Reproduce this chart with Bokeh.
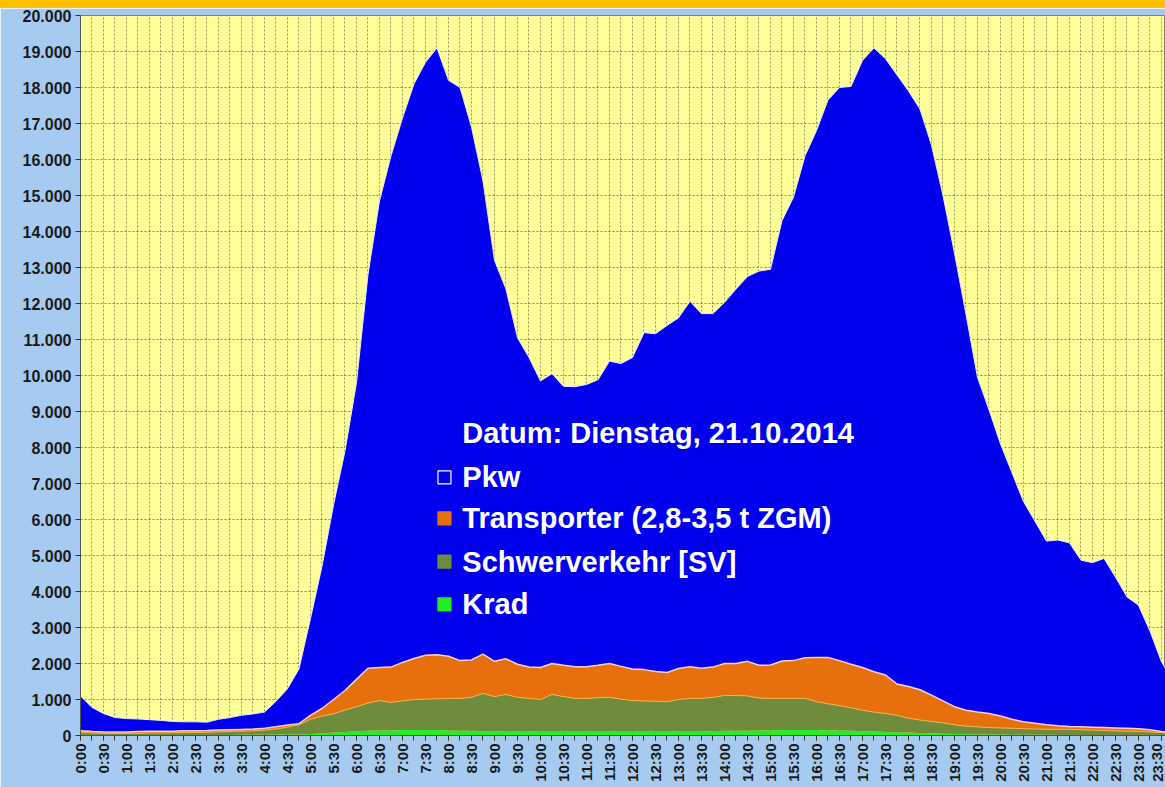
from bokeh.plotting import figure
from bokeh.models import Range1d, FixedTicker, Label, ColumnDataSource, Div
from bokeh.layouts import column
from bokeh.transform import stack
from bokeh.embed import file_html
from bokeh.resources import INLINE

# 15-minute slots 0:00 .. 23:45 (index 0..95)
slot = list(range(96))

tick_labels = ["0:00", "0:30", "1:00", "1:30", "2:00", "2:30", "3:00", "3:30",
               "4:00", "4:30", "5:00", "5:30", "6:00", "6:30", "7:00", "7:30",
               "8:00", "8:30", "9:00", "9:30", "10:00", "10:30", "11:00", "11:30",
               "12:00", "12:30", "13:00", "13:30", "14:00", "14:30", "15:00", "15:30",
               "16:00", "16:30", "17:00", "17:30", "18:00", "18:30", "19:00", "19:30",
               "20:00", "20:30", "21:00", "21:30", "22:00", "22:30", "23:00", "23:30"]

y_ticks = [0, 1000, 2000, 3000, 4000, 5000, 6000, 7000, 8000, 9000, 10000,
           11000, 12000, 13000, 14000, 15000, 16000, 17000, 18000, 19000, 20000]
y_labels = ["0", "1.000", "2.000", "3.000", "4.000", "5.000", "6.000", "7.000",
            "8.000", "9.000", "10.000", "11.000", "12.000", "13.000", "14.000",
            "15.000", "16.000", "17.000", "18.000", "19.000", "20.000"]

krad = [15, 15, 15, 15, 15, 15, 15, 15, 15, 15,
        15, 15, 15, 15, 20, 20, 20, 25, 25, 30,
        40, 55, 80, 100, 120, 130, 140, 140, 150, 150,
        150, 150, 140, 130, 130, 120, 120, 120, 110, 110,
        110, 110, 110, 110, 110, 110, 110, 110, 110, 110,
        110, 110, 110, 120, 120, 120, 130, 130, 130, 140,
        140, 150, 150, 150, 150, 140, 140, 130, 120, 110,
        100, 90, 80, 70, 60, 50, 40, 35, 30, 25,
        25, 20, 20, 20, 20, 15, 15, 15, 15, 15,
        15, 15, 10, 10, 10, 10]

schwerverkehr = [65, 55, 45, 45, 45, 50, 55, 55, 60, 65,
                 70, 75, 85, 95, 100, 110, 130, 155, 205, 270,
                 410, 485, 520, 610, 680, 770, 830, 780, 810, 850,
                 860, 870, 890, 900, 930, 1050, 960, 1020, 950, 920,
                 890, 1030, 970, 920, 920, 940, 950, 900, 860, 850,
                 840, 830, 890, 910, 910, 940, 980, 980, 970, 900,
                 890, 880, 880, 880, 790, 740, 690, 640, 580, 540,
                 510, 470, 400, 360, 330, 300, 260, 225, 210, 195,
                 185, 180, 170, 160, 155, 155, 155, 145, 135, 125,
                 115, 105, 105, 90, 70, 60]

transporter = [50, 40, 40, 40, 40, 45, 50, 50, 45, 50,
               50, 50, 50, 50, 50, 50, 50, 60, 60, 30,
               110, 210, 400, 540, 760, 970, 920, 980, 1070, 1140,
               1220, 1220, 1170, 1050, 1040, 1090, 980, 990, 920, 870,
               890, 860, 870, 880, 880, 900, 940, 910, 880, 870,
               830, 810, 860, 880, 840, 840, 890, 890, 960, 910,
               930, 1040, 1050, 1130, 1230, 1290, 1250, 1210, 1190, 1120,
               1070, 870, 880, 840, 730, 610, 500, 440, 410, 390,
               330, 250, 190, 160, 125, 100, 80, 80, 80, 80,
               80, 80, 75, 60, 30, 30]

pkw = [970, 670, 510, 400, 370, 350, 320, 300, 270, 250,
       245, 230, 300, 340, 390, 420, 450, 710, 1010, 1520,
       2690, 3950, 5400, 6650, 8240, 10930, 12960, 14200, 15120, 15960,
       16470, 16860, 16000, 15920, 14800, 13140, 11140, 10270, 9070, 8600,
       7960, 8050, 7750, 7780, 7840, 7930, 8400, 8410, 8650, 9360,
       9380, 9640, 9740, 10150, 9850, 9820, 10030, 10400, 10690, 10950,
       10990, 12230, 12870, 13940, 14630, 15480, 15920, 16050, 16860, 17330,
       17120, 16920, 16540, 16130, 15280, 14040, 12600, 11000, 9300, 8440,
       7560, 6850, 6120, 5610, 5100, 5160, 5100, 4630, 4570, 4700,
       4190, 3650, 3430, 2740, 1940, 1400]

legend_names = ["Pkw", "Transporter (2,8-3,5 t ZGM)", "Schwerverkehr [SV]", "Krad"]
title_text = "Datum: Dienstag, 21.10.2014"

C_PKW = "#0000EE"
C_TR = "#E8700C"
C_SV = "#6E8C3C"
C_KR = "#22EE22"

src = ColumnDataSource(dict(slot=slot, krad=krad, sv=schwerverkehr,
                            tr=transporter, pkw=pkw))

p = figure(width=1165, height=779, x_range=Range1d(0, 94.35), y_range=Range1d(0, 20000),
           output_backend="svg", toolbar_location=None, margin=0,
           min_border_left=80, min_border_right=0, min_border_top=7, min_border_bottom=52)

p.background_fill_color = "#FFFF99"
p.border_fill_color = "#A6CAF0"
p.outline_line_color = "#7F7F7F"

p.varea_stack(stackers=["krad", "sv", "tr", "pkw"], x="slot",
              color=[C_KR, C_SV, C_TR, C_PKW], source=src)
p.line(x="slot", y=stack("krad", "sv"), source=src, line_color="#F2B24A", line_width=1)
p.line(x="slot", y=stack("krad", "sv", "tr"), source=src, line_color="#F4D0D8", line_width=1.5)
p.line(x="slot", y=stack("krad", "sv", "tr", "pkw"), source=src, line_color="#E8E8FF", line_width=1)

# axes
p.xaxis.ticker = FixedTicker(ticks=[2 * k for k in range(len(tick_labels))],
                             minor_ticks=slot)
p.xaxis.major_label_overrides = {2 * k: lab for k, lab in enumerate(tick_labels)}
p.xaxis.major_label_orientation = 1.5708
p.xaxis.major_label_text_font = "Liberation Sans"
p.xaxis.major_label_text_font_style = "bold"
p.xaxis.major_label_text_font_size = "15px"
p.xaxis.major_label_text_color = "#1A1A1A"
p.xaxis.major_tick_out = 5
p.xaxis.major_tick_in = 0
p.xaxis.minor_tick_out = 5
p.xaxis.minor_tick_in = 0
p.xaxis.axis_line_color = "#555555"
p.xaxis.major_tick_line_color = "#333333"
p.xaxis.minor_tick_line_color = "#333333"
p.xaxis.major_label_standoff = 3

p.yaxis.ticker = FixedTicker(ticks=y_ticks, minor_ticks=[])
p.yaxis.major_label_overrides = dict(zip(y_ticks, y_labels))
p.yaxis.major_label_text_font = "Liberation Sans"
p.yaxis.major_label_text_font_style = "bold"
p.yaxis.major_label_text_font_size = "16px"
p.yaxis.major_label_text_color = "#1A1A1A"
p.yaxis.major_tick_out = 5
p.yaxis.major_tick_in = 0
p.yaxis.axis_line_color = "#555555"
p.yaxis.major_tick_line_color = "#333333"
p.yaxis.major_label_standoff = 4

# grid
p.xgrid.ticker = FixedTicker(ticks=slot)
p.xgrid.grid_line_color = "#6E6A50"
p.xgrid.grid_line_dash = "2 2"
p.xgrid.grid_line_alpha = 0.7
p.ygrid.ticker = FixedTicker(ticks=y_ticks)
p.ygrid.grid_line_color = "#6E6A50"
p.ygrid.grid_line_dash = "2 2"
p.ygrid.grid_line_alpha = 0.8

# legend (text annotation inside the plot)
TEXT_X = 33.2
SW_X = 31.65
title_y = 8390
line_y = [7170, 6030, 4830, 3640]
sw_fill = [C_PKW, C_TR, C_SV, C_KR]
sw_line = ["white", C_TR, C_SV, C_KR]

p.add_layout(Label(x=TEXT_X, y=title_y, text=title_text, text_color="white",
                   text_font="Liberation Sans", text_font_style="bold",
                   text_font_size="29px", text_baseline="middle"))
for name, yy in zip(legend_names, line_y):
    p.add_layout(Label(x=TEXT_X, y=yy, text=name, text_color="white",
                       text_font="Liberation Sans", text_font_style="bold",
                       text_font_size="29px", text_baseline="middle"))
p.scatter(x=[SW_X] * 4, y=line_y, marker="square", size=13,
          fill_color=sw_fill, line_color=sw_line, line_width=1.2)

top_bar = Div(width=1165, height=8, margin=0,
              styles={"background-color": "#FFC000"})
layout = column(top_bar, p, spacing=0, margin=0)

open("out.html", "w").write(file_html(layout, INLINE))
